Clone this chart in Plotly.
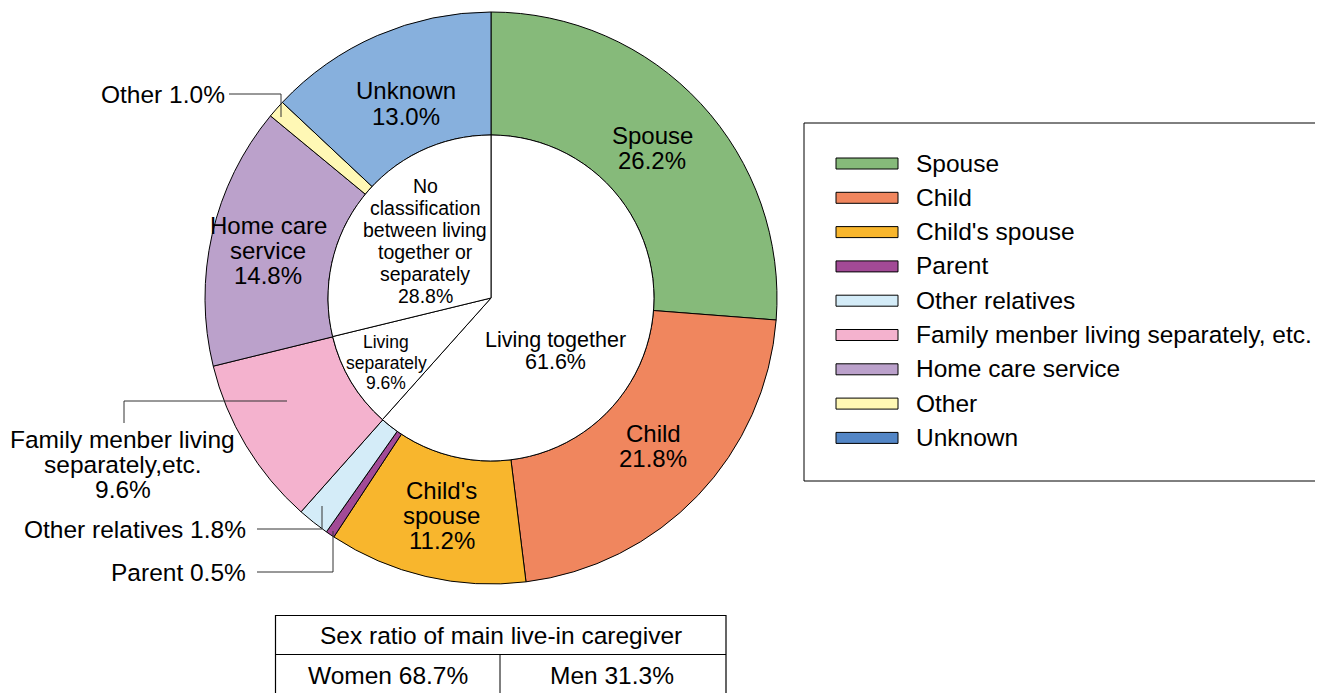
import plotly.graph_objects as go

W, H = 1323, 693

# ---------------- data ----------------
categories = ["Spouse", "Child", "Child's spouse", "Parent", "Other relatives",
              "Family menber living separately, etc.", "Home care service", "Other", "Unknown"]
shares = [26.2, 21.8, 11.2, 0.5, 1.8, 9.6, 14.8, 1.0, 13.0]
slice_colors = ["#86BA7A", "#F0865E", "#F8B62D", "#A24A96", "#D4ECF8",
                "#F4B2CE", "#BBA1CB", "#FFF8B5", "#87B0DD"]
legend_colors = ["#86BA7A", "#F0865E", "#F8B62D", "#A24A96", "#D4ECF8",
                 "#F4B2CE", "#BBA1CB", "#FFF8B5", "#5386C6"]

living_groups = ["Living together", "Living separately",
                 "No classification between living together or separately"]
living_shares = [61.6, 9.6, 28.8]

sex_title = "Sex ratio of main live-in caregiver"
sex_labels = ["Women", "Men"]
sex_shares = [68.7, 31.3]

FONT = "Liberation Sans, Arial, Helvetica, sans-serif"

# page offset (body margin) so that positions below are in screenshot pixels
OFF = 8


def px(x):
    return (x - OFF) / W


def py(y):
    return 1 - (y - OFF) / H


# ---------------- geometry ----------------
cx, cy = 491, 298
r_out, r_in = 286, 163


def dom(r):
    return dict(x=[px(cx - r), px(cx + r)], y=[py(cy + r), py(cy - r)])


fig = go.Figure()
fig.add_trace(go.Pie(
    labels=categories, values=shares, sort=False, direction="clockwise", rotation=0,
    hole=r_in / r_out, domain=dom(r_out), textinfo="none",
    marker=dict(colors=slice_colors, line=dict(color="black", width=1)),
    showlegend=False,
))
fig.add_trace(go.Pie(
    labels=living_groups, values=living_shares, sort=False, direction="clockwise", rotation=0,
    domain=dom(r_in), textinfo="none",
    marker=dict(colors=["white"] * len(living_groups), line=dict(color="black", width=1)),
    showlegend=False,
))


def add_text(lines, x, y0, dy, size, family=FONT, anchor="center"):
    for i, t in enumerate(lines):
        fig.add_annotation(x=px(x), y=py(y0 + i * dy), xref="paper", yref="paper",
                           text=t, showarrow=False, xanchor=anchor, yanchor="middle",
                           borderpad=0,
                           font=dict(size=size, family=family, color="black"))


def pct(v):
    return f"{v:.1f}%"


share = dict(zip(categories, shares))
lshare = dict(zip(living_groups, living_shares))

RING = 24
TXT = 24.5

# ring labels
add_text(["Unknown", pct(share["Unknown"])], 406, 91, 25, RING)
add_text(["Spouse", pct(share["Spouse"])], 652, 135.5, 24.5, RING)
add_text(["Child", pct(share["Child"])], 653, 433, 25.5, RING)
add_text(["Child's", "spouse", pct(share["Child's spouse"])], 441.5, 490, 25.2, RING)
add_text(["Home care", "service", pct(share["Home care service"])], 268, 226, 24.8, RING)

# outside labels
add_text([f"Other {pct(share['Other'])}"], 226, 95, 0, TXT, anchor="right")
add_text(["Family menber living", "separately,etc.",
          pct(share["Family menber living separately, etc."])], 123, 439, 25, TXT)
add_text([f"Other relatives {pct(share['Other relatives'])}"], 247, 529, 0, TXT, anchor="right")
add_text([f"Parent {pct(share['Parent'])}"], 247, 572, 0, TXT, anchor="right")

# inner labels
add_text(["No", "classification", "between living", "together or", "separately",
          pct(lshare[living_groups[2]])], 425, 185.5, 22.1, 19.5)
add_text(["Living", "separately", pct(lshare["Living separately"])], 386, 342.5, 20, 17.5)
add_text(["Living together", pct(lshare["Living together"])], 555, 340, 22, 21.5)

shapes = []


def poly(pts, color="#333333"):
    d = "M " + " L ".join(f"{px(x)},{py(y)}" for x, y in pts)
    shapes.append(dict(type="path", path=d, xref="paper", yref="paper",
                       line=dict(color=color, width=1)))


# leader lines
poly([(229, 94), (281, 94), (281, 117)])
poly([(124, 423), (124, 401), (287, 401)])
poly([(257, 529), (322, 529), (322, 506)])
poly([(257, 572), (333, 572), (333, 531)])

# legend box
shapes.append(dict(type="rect", xref="paper", yref="paper",
                   x0=px(804), x1=px(1340), y0=py(481), y1=py(123),
                   line=dict(color="black", width=1), fillcolor="rgba(0,0,0,0)"))
for i, (cat, col) in enumerate(zip(categories, legend_colors)):
    yc = 163 + i * 34.3
    shapes.append(dict(type="rect", xref="paper", yref="paper",
                       x0=px(836), x1=px(898), y0=py(yc + 6), y1=py(yc - 5),
                       line=dict(color="black", width=1), fillcolor=col))
    add_text([cat], 915, yc, 0, TXT, anchor="left")

# sex ratio table
shapes.append(dict(type="rect", xref="paper", yref="paper",
                   x0=px(275.5), x1=px(726), y0=py(710), y1=py(615.5),
                   line=dict(color="black", width=1.2), fillcolor="rgba(0,0,0,0)"))
poly([(275.5, 654.5), (726, 654.5)], color="black")
poly([(500, 654.5), (500, 710)], color="black")
add_text([sex_title], 501, 635.5, 0, TXT)
add_text([f"{sex_labels[0]} {pct(sex_shares[0])}"], 388, 675.5, 0, TXT)
add_text([f"{sex_labels[1]} {pct(sex_shares[1])}"], 612, 675.5, 0, TXT)

fig.update_layout(
    width=W, height=H, margin=dict(l=0, r=0, t=0, b=0),
    paper_bgcolor="white", plot_bgcolor="white",
    showlegend=False, shapes=shapes,
    font=dict(family=FONT, color="black"),
)

fig.write_html("out.html")
